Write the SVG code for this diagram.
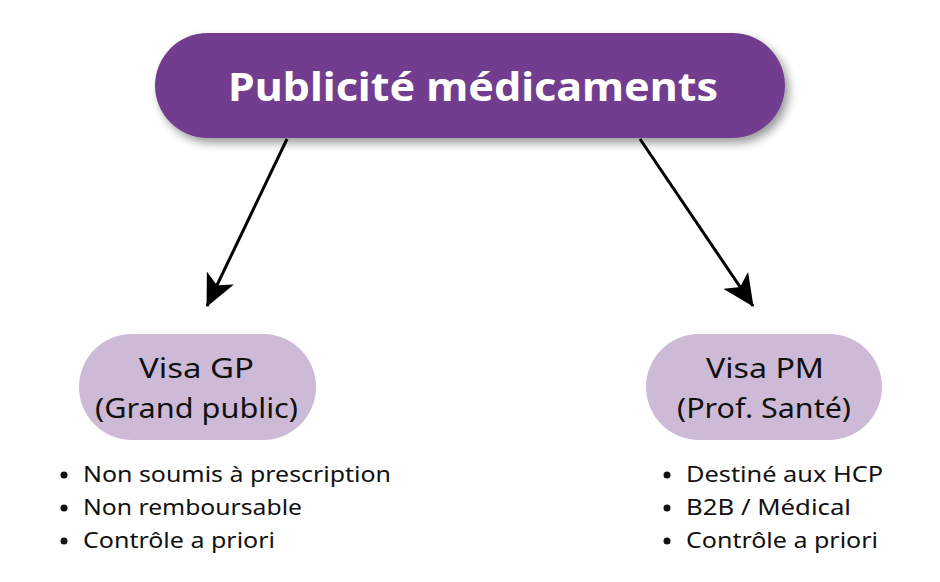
<svg xmlns="http://www.w3.org/2000/svg" width="940" height="582" viewBox="0 0 940 582">
<style>
.title{font-family:"Noto Sans","Liberation Sans",sans-serif;font-weight:bold;font-size:40px;fill:#ffffff}
.sub{font-family:"Noto Sans","Liberation Sans",sans-serif;font-size:27px;fill:#111111}
.item{font-family:"Noto Sans","Liberation Sans",sans-serif;font-size:22px;fill:#111111}
.edge{stroke:#000;stroke-width:3;fill:none}
</style>
<defs>
<filter id="sh" x="-10%" y="-20%" width="130%" height="160%">
<feGaussianBlur in="SourceAlpha" stdDeviation="5"/>
<feOffset dx="4" dy="5"/>
<feComponentTransfer><feFuncA type="linear" slope="0.4"/></feComponentTransfer>
<feMerge><feMergeNode/><feMergeNode in="SourceGraphic"/></feMerge>
</filter>
<marker id="ah" viewBox="0 0 32 30" refX="31" refY="15" markerWidth="32" markerHeight="30" markerUnits="userSpaceOnUse" orient="auto">
<path d="M0,0 L32,15 L0,30 L8,15 Z" fill="#000"/>
</marker>
</defs>
<g id="connectors">
<line class="edge" x1="287" y1="139" x2="207" y2="306" marker-end="url(#ah)"/>
<line class="edge" x1="640" y1="139" x2="753" y2="306" marker-end="url(#ah)"/>
</g>
<g id="root">
<rect x="155" y="33" width="630" height="105" rx="52.5" fill="#723D8F" filter="url(#sh)"/>
<text class="title" x="228" y="101" textLength="490" lengthAdjust="spacingAndGlyphs">Publicité médicaments</text>
</g>
<g id="visa-gp">
<rect x="79" y="334" width="237" height="106" rx="53" fill="#CDBAD6"/>
<text class="sub" x="139" y="378" textLength="115" lengthAdjust="spacingAndGlyphs">Visa GP</text>
<text class="sub" x="95" y="418" textLength="203" lengthAdjust="spacingAndGlyphs">(Grand public)</text>
</g>
<g id="visa-pm">
<rect x="646" y="334" width="236" height="106" rx="53" fill="#CDBAD6"/>
<text class="sub" x="706" y="378" textLength="118" lengthAdjust="spacingAndGlyphs">Visa PM</text>
<text class="sub" x="677" y="418" textLength="174" lengthAdjust="spacingAndGlyphs">(Prof. Santé)</text>
</g>
<g id="list-gp">
<circle cx="64" cy="475" r="3.5" fill="#111"/>
<circle cx="64" cy="508" r="3.5" fill="#111"/>
<circle cx="64" cy="541" r="3.5" fill="#111"/>
<text class="item" x="83" y="482" textLength="308" lengthAdjust="spacingAndGlyphs">Non soumis à prescription</text>
<text class="item" x="83" y="515" textLength="219" lengthAdjust="spacingAndGlyphs">Non remboursable</text>
<text class="item" x="83" y="548" textLength="192" lengthAdjust="spacingAndGlyphs">Contrôle a priori</text>
</g>
<g id="list-pm">
<circle cx="667" cy="475" r="3.5" fill="#111"/>
<circle cx="667" cy="508" r="3.5" fill="#111"/>
<circle cx="667" cy="541" r="3.5" fill="#111"/>
<text class="item" x="686" y="482" textLength="197" lengthAdjust="spacingAndGlyphs">Destiné aux HCP</text>
<text class="item" x="686" y="515" textLength="165" lengthAdjust="spacingAndGlyphs">B2B / Médical</text>
<text class="item" x="686" y="548" textLength="192" lengthAdjust="spacingAndGlyphs">Contrôle a priori</text>
</g>
</svg>
